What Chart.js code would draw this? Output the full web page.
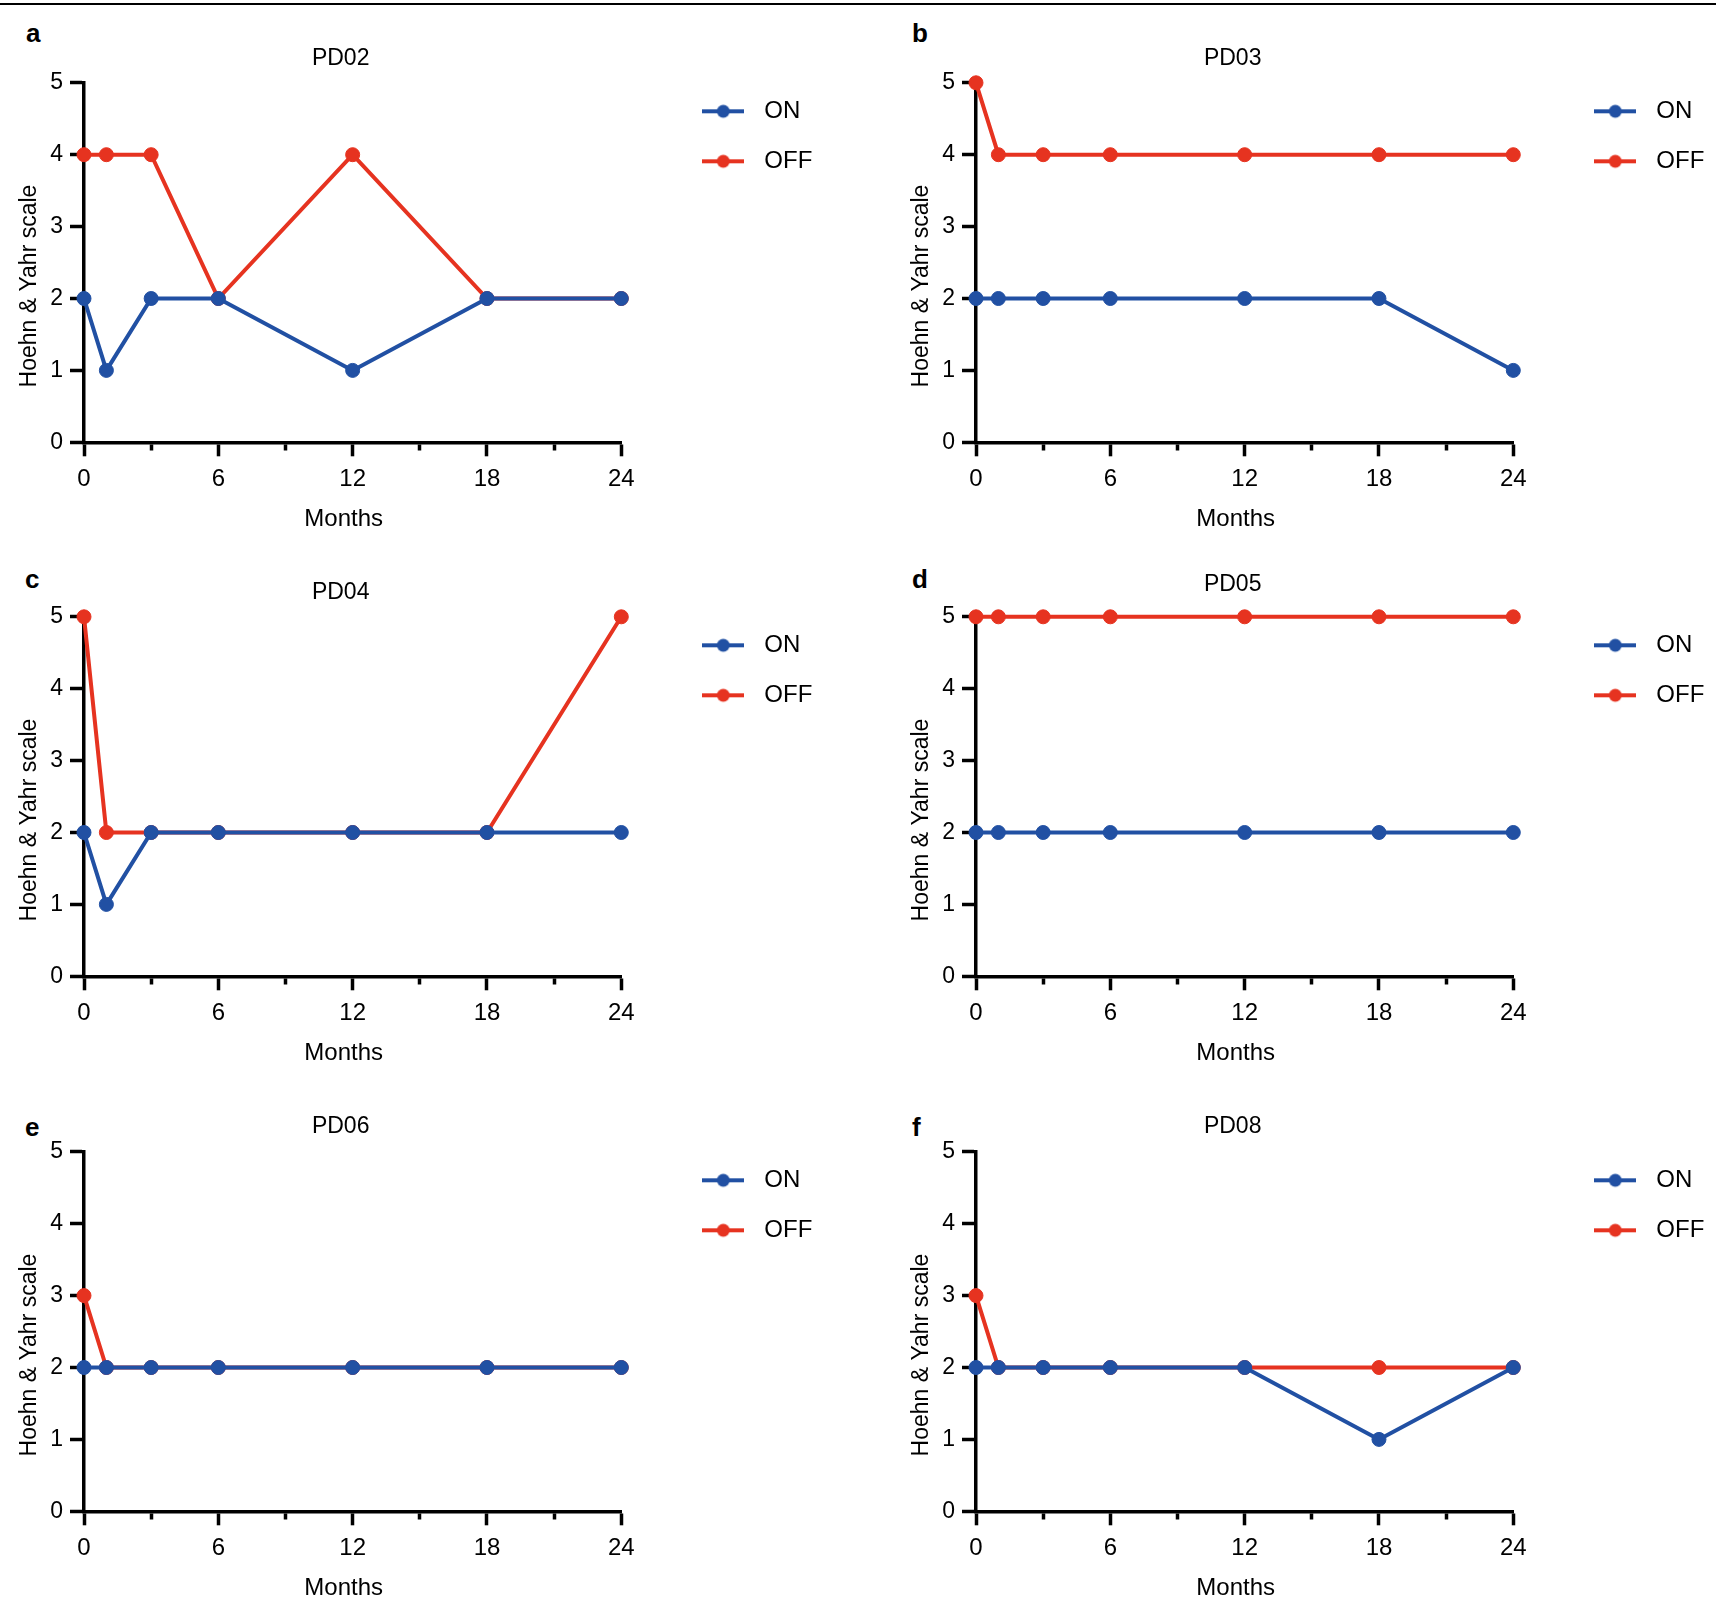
<!DOCTYPE html>
<html>
<head>
<meta charset="utf-8">
<script src="https://cdn.jsdelivr.net/npm/chart.js@4.4.1/dist/chart.umd.min.js"></script>
<style>
  body { margin: 0; background: #fff; width: 1716px; height: 1613px; position: relative; overflow: hidden;
         font-family: "Liberation Sans", Arial, sans-serif; }
  .topline { position: absolute; left: 0; top: 3px; width: 1716px; height: 2px; background: #000; }
  .letter { position: absolute; font-weight: bold; font-size: 26px; line-height: 26px; color: #000; }
  canvas { position: absolute; }
</style>
</head>
<body>
<div class="topline"></div>
<script>
// months of follow-up
const months = [0, 1, 3, 6, 12, 18, 24];
const xTickLabels = [0, 6, 12, 18, 24];
const seriesNames = ["ON", "OFF"];
const patients = ["PD02", "PD03", "PD04", "PD05", "PD06", "PD08"];
const panelLetters = ["a", "b", "c", "d", "e", "f"];

// Hoehn & Yahr scores, ON / OFF medication
const pd02On  = [2, 1, 2, 2, 1, 2, 2];
const pd02Off = [4, 4, 4, 2, 4, 2, 2];
const pd03On  = [2, 2, 2, 2, 2, 2, 1];
const pd03Off = [5, 4, 4, 4, 4, 4, 4];
const pd04On  = [2, 1, 2, 2, 2, 2, 2];
const pd04Off = [5, 2, 2, 2, 2, 2, 5];
const pd05On  = [2, 2, 2, 2, 2, 2, 2];
const pd05Off = [5, 5, 5, 5, 5, 5, 5];
const pd06On  = [2, 2, 2, 2, 2, 2, 2];
const pd06Off = [3, 2, 2, 2, 2, 2, 2];
const pd08On  = [2, 2, 2, 2, 2, 1, 2];
const pd08Off = [3, 2, 2, 2, 2, 2, 2];

const onSeries  = [pd02On, pd03On, pd04On, pd05On, pd06On, pd08On];
const offSeries = [pd02Off, pd03Off, pd04Off, pd05Off, pd06Off, pd08Off];

const BLUE = "#2150a3";
const RED = "#e63320";
const FONT = '"Liberation Sans", Arial, sans-serif';

Chart.defaults.font.family = FONT;
Chart.defaults.color = "#000";

// where each plot area sits on the page
const layout = [
    { left: 84.3, top: 83.2, titleGap: 24, letter: [26, 20] },
    { left: 976, top: 83.2, titleGap: 24, letter: [912, 20] },
    { left: 84.3, top: 617, titleGap: 24, letter: [25, 566] },
    { left: 976, top: 617, titleGap: 32, letter: [912, 566] },
    { left: 84.3, top: 1152, titleGap: 25, letter: [25, 1114] },
    { left: 976, top: 1152, titleGap: 25, letter: [912, 1114] },
];
const plotW = 537.3;
const plotH = 359.5;
const yAxisArea = 84;
const xAxisH = 100;
const canvasW = 822;

function legendSymbol(color) {
    const c = document.createElement("canvas");
    c.width = 42;
    c.height = 16;
    const g = c.getContext("2d");
    g.strokeStyle = color;
    g.lineWidth = 3.8;
    g.beginPath();
    g.moveTo(0, 8);
    g.lineTo(42, 8);
    g.stroke();
    g.fillStyle = color;
    g.beginPath();
    g.arc(21, 8, 6.5, 0, Math.PI * 2);
    g.fill();
    return c;
}
const symbols = [legendSymbol(BLUE), legendSymbol(RED)];

// legend to the right of the plot, near its top;
// y tick labels may use the room left of the axis
const placer = {
    id: "placer",
    afterLayout(chart) {
        const lg = chart.legend;
        const area = chart.chartArea;
        lg.left = area.right + 47;
        lg.right = lg.left + lg.width;
        lg.top = area.top - 9.5;
        lg.bottom = lg.top + area.height;
        chart.scales.y.left = 0;
    },
};

// axis titles, placed off-centre like the original
const axisTitles = {
    id: "axisTitles",
    afterDraw(chart, args, opts) {
        const { ctx, chartArea: a } = chart;
        ctx.save();
        ctx.fillStyle = "#000";
        ctx.textAlign = "center";
        ctx.textBaseline = "middle";
        ctx.font = "24px " + FONT;
        ctx.fillText(opts.x, (a.left + a.right) / 2 - 9, a.bottom + 77);
        ctx.translate(a.left - 54, (a.top + a.bottom) / 2 + 23.5);
        ctx.rotate(-Math.PI / 2);
        ctx.font = "23px " + FONT;
        ctx.fillText(opts.y, 0, 0);
        ctx.restore();
    },
};

function toPoints(values) {
    return months.map((m, i) => ({ x: m, y: values[i] }));
}

function makeDataset(label, values, color) {
    return {
        label: label,
        data: toPoints(values),
        borderColor: color,
        backgroundColor: color,
        pointBackgroundColor: color,
        pointBorderColor: color,
        borderWidth: 4,
        pointRadius: 7,
        pointBorderWidth: 1,
        tension: 0,
        clip: false,
    };
}

patients.forEach((name, p) => {
    const L = layout[p];
    const titleBox = L.titleGap + 13.8;
    const canvasH = Math.ceil(titleBox + plotH + xAxisH + 2);

    const letter = document.createElement("div");
    letter.className = "letter";
    letter.textContent = panelLetters[p];
    letter.style.left = L.letter[0] + "px";
    letter.style.top = L.letter[1] + "px";
    document.body.appendChild(letter);

    const canvas = document.createElement("canvas");
    canvas.width = canvasW;
    canvas.height = canvasH;
    canvas.style.left = (L.left - yAxisArea) + "px";
    canvas.style.top = (L.top - titleBox) + "px";
    document.body.appendChild(canvas);

    // title is centred between padLeft and the plot's right edge
    const plotRight = yAxisArea + plotW;
    const padLeft = 2 * (yAxisArea + plotW / 2 - 12) - plotRight;

    new Chart(canvas, {
        type: "line",
        data: {
            datasets: [
                makeDataset(seriesNames[0], onSeries[p], BLUE),
                makeDataset(seriesNames[1], offSeries[p], RED),
            ],
        },
        options: {
            responsive: false,
            animation: false,
            events: [],
            layout: {
                padding: {
                    left: padLeft,
                    top: 0,
                    right: canvasW - plotRight,
                    bottom: canvasH - titleBox - plotH - xAxisH,
                },
            },
            plugins: {
                tooltip: { enabled: false },
                title: {
                    display: true,
                    text: name,
                    font: { size: 23, weight: "normal" },
                    color: "#000",
                    padding: { top: 0, bottom: L.titleGap - 13.8 },
                },
                legend: {
                    position: "chartArea",
                    align: "start",
                    labels: {
                        usePointStyle: true,
                        pointStyleWidth: 58,
                        boxHeight: 14,
                        padding: 26,
                        color: "#000",
                        font: { size: 24 },
                        generateLabels(chart) {
                            return chart.data.datasets.map((ds, i) => ({
                                text: ds.label,
                                pointStyle: symbols[i],
                                fillStyle: ds.borderColor,
                                strokeStyle: ds.borderColor,
                                lineWidth: 0,
                                hidden: false,
                                datasetIndex: i,
                                fontColor: "#000",
                            }));
                        },
                    },
                },
                axisTitles: { x: "Months", y: "Hoehn & Yahr scale" },
            },
            scales: {
                x: {
                    type: "linear",
                    min: 0,
                    max: 24,
                    afterFit(scale) { scale.height = xAxisH; },
                    ticks: {
                        stepSize: 3,
                        autoSkip: false,
                        maxRotation: 0,
                        padding: 9,
                        font: { size: 24 },
                        color: "#000",
                        callback: (v) => (xTickLabels.includes(v) ? String(v) : ""),
                    },
                    grid: {
                        drawOnChartArea: false,
                        tickLength: 14,
                        tickWidth: 3.5,
                        tickColor: "#000",
                        tickBorderDash: (ctx) =>
                            ctx.tick && !xTickLabels.includes(ctx.tick.value) ? [6, 100] : [],
                    },
                    border: { display: true, color: "#000", width: 3.5 },
                },
                y: {
                    min: 0,
                    max: 5,
                    afterFit(scale) { scale.width = yAxisArea - padLeft; },
                    ticks: {
                        stepSize: 1,
                        padding: 7,
                        font: { size: 23 },
                        color: "#000",
                    },
                    grid: {
                        drawOnChartArea: false,
                        tickLength: 14,
                        tickWidth: 3.5,
                        tickColor: "#000",
                    },
                    border: { display: true, color: "#000", width: 3.5 },
                },
            },
        },
        plugins: [placer, axisTitles],
    });
});
</script>
</body>
</html>
